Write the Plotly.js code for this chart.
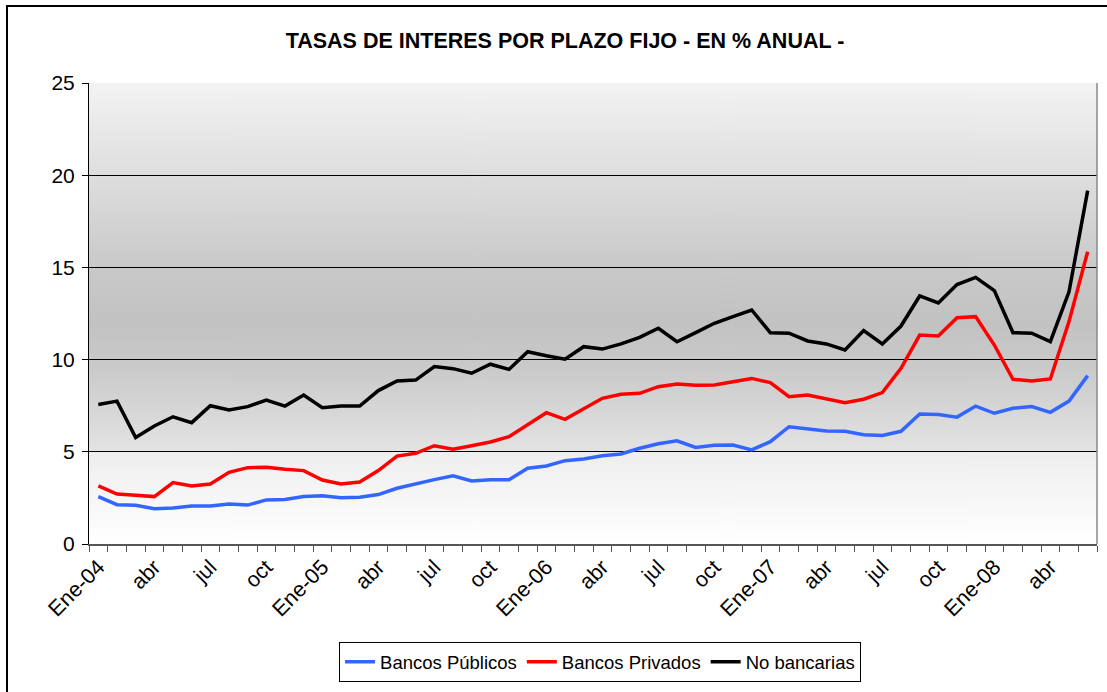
<!DOCTYPE html>
<html>
<head>
<meta charset="utf-8">
<script src="https://cdn.plot.ly/plotly-3.0.1.min.js"></script>
<style>
  html, body { margin: 0; padding: 0; background: #ffffff; }
  #wrap { position: relative; width: 1107px; height: 692px; overflow: hidden; }
  #frame { position: absolute; left: 6px; top: 5px; width: 1120px; height: 720px; border: 2px solid #000; box-sizing: border-box; pointer-events: none; z-index: 5; }
  #chart { position: absolute; left: 0; top: 0; width: 1107px; height: 692px; }
</style>
</head>
<body>
<div id="wrap">
  <div id="chart"></div>
  <div id="frame"></div>
</div>
<script>
// Month labels (54 months: Ene-04 .. Jun-08); only every third is shown
const months = [
  "Ene-04","feb","mar","abr","may","jun","jul","ago","sep","oct","nov","dic",
  "Ene-05","feb","mar","abr","may","jun","jul","ago","sep","oct","nov","dic",
  "Ene-06","feb","mar","abr","may","jun","jul","ago","sep","oct","nov","dic",
  "Ene-07","feb","mar","abr","may","jun","jul","ago","sep","oct","nov","dic",
  "Ene-08","feb","mar","abr","may","jun"
];

const bancosPublicos = [
  2.57, 2.13, 2.10, 1.91, 1.95, 2.06, 2.06, 2.17, 2.11, 2.39, 2.42, 2.57,
  2.62, 2.51, 2.53, 2.68, 3.02, 3.27, 3.49, 3.70, 3.42, 3.49, 3.49, 4.11,
  4.23, 4.52, 4.61, 4.79, 4.88, 5.19, 5.44, 5.60, 5.24, 5.35, 5.37, 5.10,
  5.55, 6.36, 6.24, 6.13, 6.11, 5.93, 5.89, 6.11, 7.05, 7.02, 6.88, 7.48,
  7.09, 7.36, 7.45, 7.14, 7.75, 9.13
];

const bancosPrivados = [
  3.15, 2.71, 2.64, 2.57, 3.33, 3.15, 3.25, 3.89, 4.14, 4.16, 4.05, 3.98,
  3.47, 3.25, 3.36, 3.98, 4.77, 4.92, 5.33, 5.14, 5.33, 5.53, 5.82, 6.49,
  7.12, 6.76, 7.32, 7.90, 8.12, 8.17, 8.53, 8.68, 8.61, 8.62, 8.80, 8.98,
  8.75, 7.99, 8.08, 7.86, 7.66, 7.85, 8.21, 9.53, 11.33, 11.28, 12.27, 12.33,
  10.79, 8.93, 8.84, 8.95, 12.06, 15.85
];

const noBancarias = [
  7.57, 7.75, 5.77, 6.40, 6.90, 6.58, 7.50, 7.27, 7.45, 7.81, 7.48, 8.08,
  7.39, 7.48, 7.48, 8.32, 8.84, 8.89, 9.62, 9.51, 9.26, 9.75, 9.47, 10.43,
  10.21, 10.02, 10.70, 10.57, 10.85, 11.21, 11.70, 10.97, 11.46, 11.97, 12.33, 12.69,
  11.46, 11.43, 11.01, 10.85, 10.52, 11.57, 10.85, 11.82, 13.45, 13.07, 14.07, 14.46,
  13.74, 11.46, 11.43, 10.97, 13.68, 19.16
];

const seriesNames = ["Bancos Públicos", "Bancos Privados", "No bancarias"];
const seriesColors = ["#3366ff", "#ff0000", "#000000"];

const xIdx = months.map((_, i) => i);
const tickIdx = xIdx.filter(i => i % 3 === 0);
const tickText = tickIdx.map(i => months[i]);
const boundaries = [];
for (let i = 0; i <= months.length; i++) boundaries.push(i - 0.5);

// gradient background image for the plot area
function gradientURL() {
  const c = document.createElement("canvas");
  c.width = 4; c.height = 461;
  const g = c.getContext("2d");
  const grd = g.createLinearGradient(0, 0, 0, 461);
  grd.addColorStop(0.00, "#f3f3f3");
  grd.addColorStop(0.20, "#dedede");
  grd.addColorStop(0.40, "#c9c9c9");
  grd.addColorStop(0.52, "#c2c2c2");
  grd.addColorStop(0.62, "#cacaca");
  grd.addColorStop(0.799, "#e3e3e3");
  grd.addColorStop(0.801, "#eeeeee");
  grd.addColorStop(1.00, "#ffffff");
  g.fillStyle = grd;
  g.fillRect(0, 0, 4, 461);
  return c.toDataURL("image/png");
}

const data = [bancosPublicos, bancosPrivados, noBancarias].map((ys, k) => ({
  type: "scatter",
  mode: "lines",
  name: seriesNames[k],
  x: xIdx,
  y: ys,
  line: { color: seriesColors[k], width: 3.5 },
  hoverinfo: "x+y"
}));

const layout = {
  width: 1107,
  height: 692,
  margin: { l: 89, r: 10, t: 83, b: 148 },
  paper_bgcolor: "rgba(0,0,0,0)",
  plot_bgcolor: "rgba(0,0,0,0)",
  font: { family: "Liberation Sans, Arial, sans-serif", color: "#000" },
  title: {
    text: "<b>TASAS DE INTERES POR PLAZO FIJO - EN % ANUAL -</b>",
    font: { family: "Liberation Sans, Arial, sans-serif", size: 21.5, color: "#000" },
    x: 565 / 1107, xanchor: "center", xref: "container",
    y: 1 - 40 / 692, yanchor: "middle", yref: "container"
  },
  xaxis: {
    range: [-0.5, months.length - 0.5],
    tickmode: "array",
    tickvals: tickIdx,
    ticktext: tickText,
    tickangle: -45,
    ticks: "",
    tickfont: { size: 21.5 },
    showgrid: false,
    zeroline: false,
    showline: true,
    linecolor: "#555555",
    linewidth: 2,
    minor: { tickmode: "array", tickvals: boundaries, ticks: "outside", ticklen: 6, tickcolor: "#555555", tickwidth: 1, showgrid: false },
    fixedrange: true
  },
  yaxis: {
    range: [0, 25],
    tickmode: "linear",
    tick0: 0,
    dtick: 5,
    ticks: "outside",
    ticklen: 6,
    tickcolor: "#000",
    tickfont: { size: 21 },
    ticklabelstandoff: 3,
    showgrid: true,
    gridcolor: "#000000",
    gridwidth: 1,
    zeroline: false,
    showline: true,
    linecolor: "#000000",
    linewidth: 1,
    fixedrange: true
  },
  images: [{
    source: gradientURL(),
    xref: "paper", yref: "paper",
    x: 0, y: 1, sizex: 1, sizey: 1,
    xanchor: "left", yanchor: "top",
    sizing: "stretch",
    layer: "below"
  }],
  shapes: [{
    type: "line", xref: "paper", yref: "paper",
    x0: 1, x1: 1, y0: 0, y1: 1,
    line: { color: "#888888", width: 1.5 }
  }],
  showlegend: true,
  legend: {
    orientation: "h",
    x: 0.507, xanchor: "center",
    y: -0.213, yanchor: "top",
    bgcolor: "#ffffff",
    bordercolor: "#000000",
    borderwidth: 1,
    font: { size: 18.5 },
    itemwidth: 30,
    tracegroupgap: 0
  }
};

Plotly.newPlot("chart", data, layout, { displayModeBar: false, staticPlot: true });
</script>
</body>
</html>
